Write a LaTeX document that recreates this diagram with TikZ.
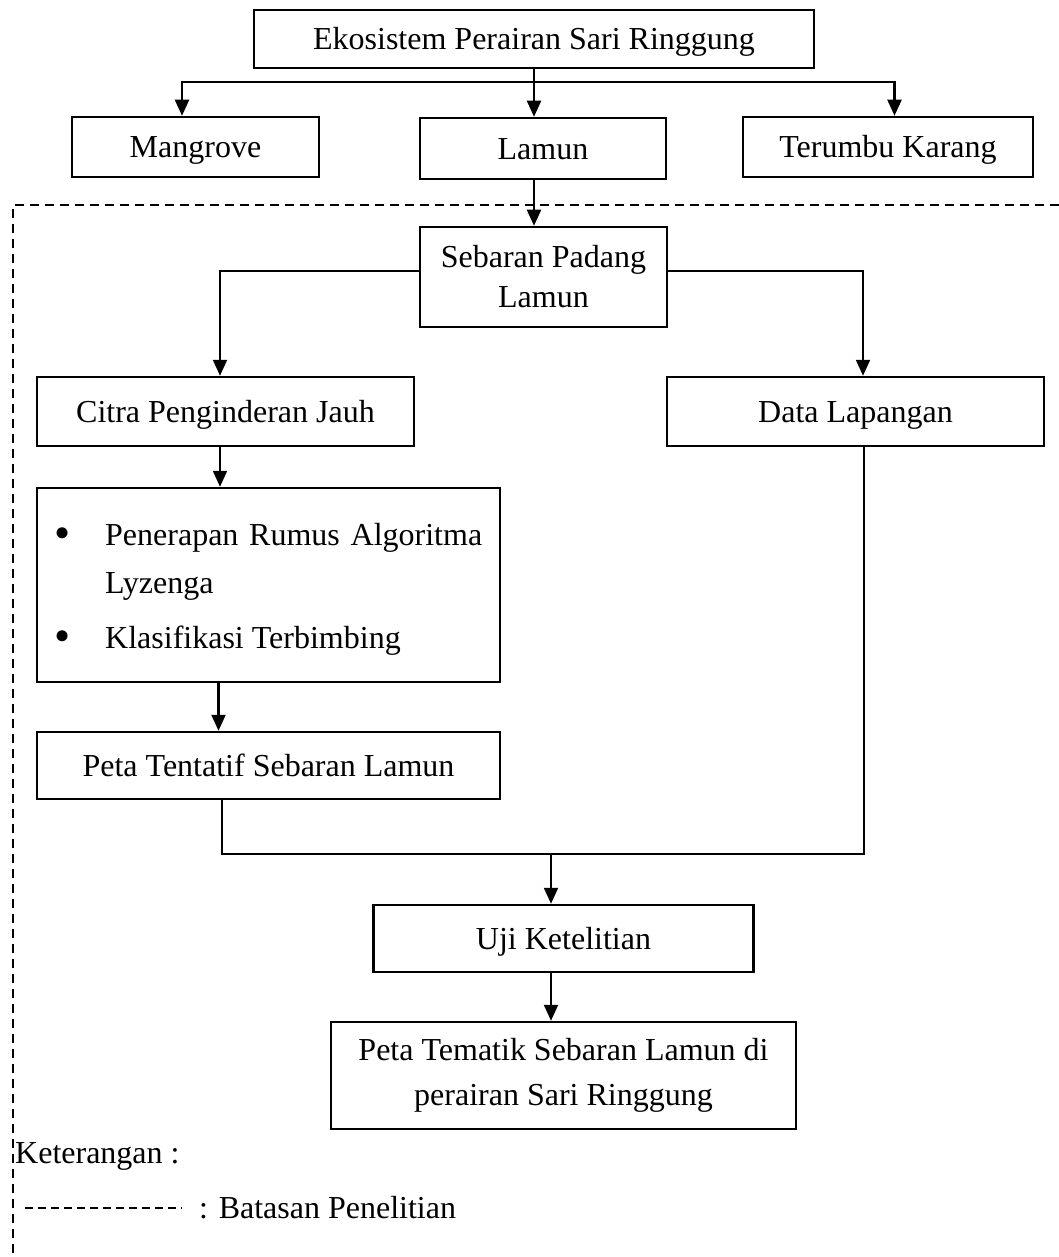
\documentclass[tikz,border=0pt]{standalone}
\usepackage{fontspec}
\setmainfont{Liberation Serif}
\usetikzlibrary{arrows.meta}
\begin{document}
\begin{tikzpicture}[x=1pt,y=-1pt,
  box/.style={draw, line width=2.5pt, inner sep=0pt, font=\fontsize{32}{40}\selectfont},
  one/.style={text height=22pt, text depth=0pt},
  con/.style={line width=2.2pt},
  arr/.style={con, -{Triangle[length=16pt,width=14pt]}},
  bound/.style={line width=1.8pt, dash pattern=on 9pt off 6pt},
  txt/.style={inner sep=0pt, font=\fontsize{32}{40}\selectfont},
  bul/.style={inner sep=0pt, font=\fontsize{46}{46}\selectfont}]
\useasboundingbox (0,0) rectangle (1059,1257);

% research boundary
\coordinate (bTR) at (1059,205);
\coordinate (bTL) at (13,205);
\coordinate (bBL) at (13,1257);
\draw[bound] (bTR) -- (bTL) -- (bBL);

% boxes
\node[box,one,minimum width=560pt,minimum height=58pt] (eko) at (534,39) {Ekosistem Perairan Sari Ringgung};
\node[box,one,minimum width=247pt,minimum height=60pt] (mangrove) at (195.5,147) {Mangrove};
\node[box,one,minimum width=246pt,minimum height=61pt] (lamun) at (543,148.5) {Lamun};
\node[box,one,minimum width=290pt,minimum height=60pt] (terumbu) at (888,147) {Terumbu Karang};
\node[box,align=center,minimum width=247pt,minimum height=100pt] (sebaran) at (543.5,277) {Sebaran Padang\\Lamun};
\node[box,one,minimum width=377pt,minimum height=69pt] (citra) at (225.5,411.5) {Citra Penginderan Jauh};
\node[box,one,minimum width=377pt,minimum height=69pt] (data) at (855.5,411.5) {Data Lapangan};
\node[box,minimum width=463pt,minimum height=194pt] (proses) at (268.5,585) {};
\node[bul,anchor=base] (bul1) at (63,548) {\textbullet};
\node[txt,anchor=base west] (t1) at (105,545) {\makebox[377pt][s]{Penerapan Rumus Algoritma}};
\node[txt,anchor=base west] (t2) at (105,593) {Lyzenga};
\node[bul,anchor=base] (bul2) at (63,651) {\textbullet};
\node[txt,anchor=base west] (t3) at (105,648) {Klasifikasi Terbimbing};
\node[box,one,minimum width=463pt,minimum height=67pt] (peta) at (268.5,765.5) {Peta Tentatif Sebaran Lamun};
\node[box,one,minimum width=380pt,minimum height=67pt] (uji) at (563.5,938.5) {Uji Ketelitian};
\node[box,align=center,font=\fontsize{32}{45}\selectfont,minimum width=465pt,minimum height=107pt] (tematik) at (563.5,1075.5) {Peta Tematik Sebaran Lamun di\\perairan Sari Ringgung};

% connectors
\draw[arr] (eko.south) -- ++(0,13) -| ([xshift=-13.5pt]mangrove.north);
\draw[arr] (eko.south) -- ++(0,13) -| ([xshift=6.5pt]terumbu.north);
\draw[arr] (eko.south) -- (eko.south |- lamun.north);
\draw[arr] (lamun.south -| eko.south) -- (sebaran.north -| eko.south);
\draw[arr] ([yshift=6pt]sebaran.west) -| ([xshift=-5.5pt]citra.north);
\draw[arr] ([yshift=6pt]sebaran.east) -| ([xshift=7.5pt]data.north);
\draw[arr] ([xshift=-5.5pt]citra.south) -- ([xshift=-5.5pt]citra.south |- proses.north);
\draw[arr] ([xshift=-50pt]proses.south) -- ([xshift=-50pt]peta.north);
\coordinate (join) at (551,854);
\draw[con] ([xshift=-46.5pt]peta.south) |- (join);
\draw[con] ([xshift=8.5pt]data.south) |- (join);
\draw[arr] (join) -- (join |- uji.north);
\draw[arr] (join |- uji.south) -- (join |- tematik.north);

% legend
\node[txt,anchor=base west] (ket) at (15,1163) {Keterangan :};
\coordinate (l1) at (25,1208);
\coordinate (l2) at (182,1208);
\draw[line width=1.3pt,dash pattern=on 8pt off 5pt] (l1) -- (l2);
\node[txt,anchor=base west] (bat) at (199,1218) {: Batasan Penelitian};
\end{tikzpicture}
\end{document}
